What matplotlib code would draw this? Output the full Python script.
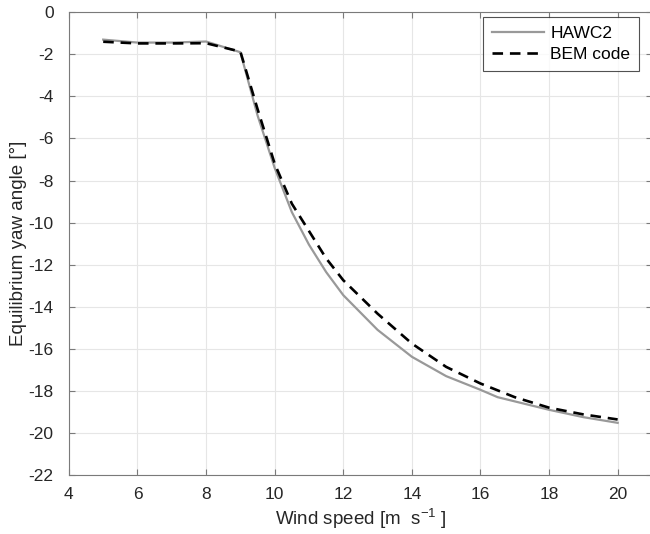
import numpy as np
import matplotlib
matplotlib.use('Agg')
import matplotlib.pyplot as plt

# wind speed [m/s] and equilibrium yaw angle [deg]
ws_hawc2 = [5, 6, 7, 8, 9, 9.5, 10, 10.5, 11, 11.5, 12, 13, 14, 15, 16, 16.5, 17, 18, 19, 20]
yaw_hawc2 = [-1.30, -1.44, -1.44, -1.39, -1.90, -4.9, -7.4, -9.5, -11.05, -12.35, -13.45,
             -15.1, -16.38, -17.3, -17.95, -18.3, -18.5, -18.9, -19.25, -19.52]

ws_bem = [5, 6, 7, 8, 9, 9.5, 10, 10.5, 11, 11.5, 12, 13, 14, 15, 16, 17, 18, 19, 20]
yaw_bem = [-1.40, -1.48, -1.48, -1.47, -1.87, -4.6, -7.2, -9.1, -10.4, -11.7, -12.74,
           -14.33, -15.75, -16.86, -17.65, -18.3, -18.8, -19.12, -19.36]

xticks = np.arange(4, 21, 2)
yticks = np.arange(-22, 1, 2)

plt.rcParams['font.family'] = ['Liberation Sans', 'DejaVu Sans']
plt.rcParams['mathtext.default'] = 'regular'
plt.rcParams['axes.unicode_minus'] = False

fig = plt.figure(figsize=(6.5, 5.34), dpi=100)
ax = fig.add_axes([0.106, 0.1105, 0.897, 0.8665])

ax.plot(ws_hawc2, yaw_hawc2, color='#999999', lw=1.6, label='HAWC2')
ax.plot(ws_bem, yaw_bem, color='black', lw=1.9, ls=(0, (4, 2.6)), label='BEM code')

ax.set_xlim(4, 21)
ax.set_ylim(-22, 0)
ax.set_xticks(xticks)
ax.set_yticks(yticks)
ax.grid(True, color='#e6e6e6', lw=0.8)
ax.set_axisbelow(True)

for s in ax.spines.values():
    s.set_color('#7a7a7a')
    s.set_linewidth(0.8)
ax.tick_params(direction='in', top=True, right=True, length=4, width=0.8,
               colors='#7a7a7a', labelcolor='#262626', labelsize=12.5)
ax.tick_params(axis='x', pad=9)
ax.tick_params(axis='y', pad=11)

ax.set_xlabel('Wind speed [m  s$^{ -1}$ ]', fontsize=13.5, color='#262626', labelpad=3)
ax.set_ylabel('Equilibrium yaw angle [°]', fontsize=13.5, color='#262626', labelpad=1)

leg = ax.legend(loc='upper right', bbox_to_anchor=(639 / 650, 1 - 17 / 534),
                bbox_transform=fig.transFigure, fontsize=12.5, frameon=True,
                fancybox=False, handlelength=3.0, handletextpad=0.35,
                borderpad=0.5, labelspacing=0.35, borderaxespad=0)
leg.get_frame().set_edgecolor('#262626')
leg.get_frame().set_linewidth(0.8)

fig.savefig('out.png', dpi=100)
